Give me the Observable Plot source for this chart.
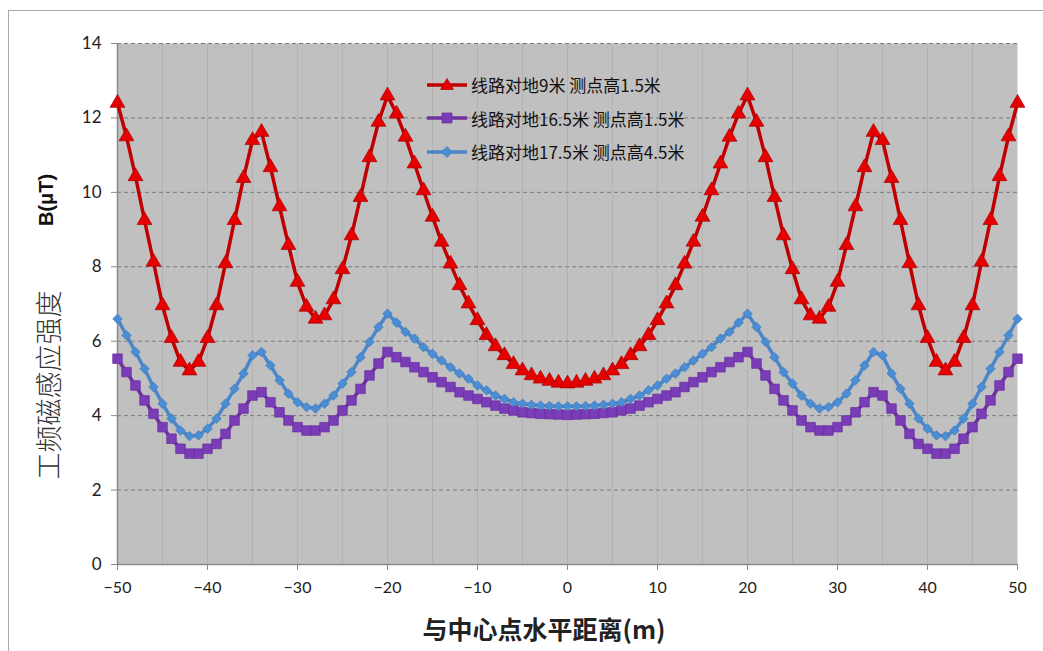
<!DOCTYPE html>
<html>
<head>
<meta charset="utf-8">
<script src="https://cdn.jsdelivr.net/npm/d3@7"></script>
<script src="https://cdn.jsdelivr.net/npm/@observablehq/plot@0.6"></script>
<style>
  html, body { margin: 0; padding: 0; background: #fff; overflow: hidden; }
  #wrap { position: relative; width: 1043px; height: 651px; overflow: hidden; }
  #chart { position: absolute; left: 0; top: 0; }
  .frame { position: absolute; left: 8px; top: 10px; width: 1100px; height: 700px;
           border-left: 1.5px solid #a8a8a8; border-top: 1.5px solid #a8a8a8; }
  .rot { position: absolute; white-space: nowrap; transform: translate(-50%, -50%) rotate(-90deg); }
  #ylab1 { left: 47px; top: 385px; font-family: "Noto Sans CJK SC", sans-serif; font-size: 27px; font-weight: 300; color: #333; }
  #ylab2 { left: 46px; top: 200px; font-family: "Liberation Sans", Arial, sans-serif; font-size: 20px; font-weight: bold; color: #111; }
  #xlab { position: absolute; left: 544px; top: 628px; transform: translate(-50%, -50%); white-space: nowrap;
          font-family: "Noto Sans CJK SC", sans-serif; font-size: 25px; font-weight: bold; color: #222; }
  #legend { position: absolute; left: 426px; top: 68px; font-family: "Noto Sans CJK SC", sans-serif; font-size: 17px; color: #111; }
  #legend .item { display: flex; align-items: center; height: 33.5px; }
  #legend svg { margin-right: 3px; }
</style>
</head>
<body>
<div id="wrap">
  <div class="frame"></div>
  <div id="chart"></div>
  <div id="ylab1" class="rot">工频磁感应强度</div>
  <div id="ylab2" class="rot">B(μT)</div>
  <div id="xlab">与中心点水平距离(m)</div>
  <div id="legend"></div>
</div>
<script>
// ---- data ----
const seriesNames = ["线路对地9米 测点高1.5米", "线路对地16.5米 测点高1.5米", "线路对地17.5米 测点高4.5米"];
const distance = d3.range(-50, 51); // horizontal distance from centre, m (every 1 m)

const red9 = [12.4, 11.5, 10.43, 9.25, 8.13, 6.96, 6.08, 5.44, 5.21, 5.44, 6.08, 6.96, 8.09, 9.25, 10.38, 11.4, 11.62, 10.67, 9.62, 8.58, 7.59, 6.92, 6.6, 6.69, 7.12, 7.93, 8.84, 9.87, 10.94, 11.89, 12.6, 12.11, 11.49, 10.77, 10.05, 9.34, 8.67, 8.08, 7.5, 7.01, 6.56, 6.16, 5.86, 5.62, 5.38, 5.21, 5.08, 4.99, 4.93, 4.88, 4.86,
  4.88, 4.93, 4.99, 5.08, 5.21, 5.38, 5.62, 5.86, 6.16, 6.56, 7.01, 7.5, 8.08, 8.67, 9.34, 10.05, 10.77, 11.49, 12.11, 12.6, 11.89, 10.94, 9.87, 8.84, 7.93, 7.12, 6.69, 6.6, 6.92, 7.59, 8.58, 9.62, 10.67, 11.62, 11.4, 10.38, 9.25, 8.09, 6.96, 6.08, 5.44, 5.21, 5.44, 6.08, 6.96, 8.13, 9.25, 10.43, 11.5, 12.4];

const purple165 = [5.53, 5.17, 4.81, 4.41, 4.05, 3.69, 3.38, 3.11, 2.98, 2.98, 3.11, 3.24, 3.51, 3.87, 4.19, 4.54, 4.63, 4.36, 4.09, 3.87, 3.69, 3.6, 3.6, 3.69, 3.87, 4.14, 4.41, 4.72, 5.08, 5.4, 5.71, 5.57, 5.44, 5.3, 5.17, 5.03, 4.9, 4.77, 4.63, 4.54, 4.45, 4.36, 4.27, 4.19, 4.14, 4.09, 4.07, 4.05, 4.04, 4.03, 4.02,
  4.03, 4.04, 4.05, 4.07, 4.09, 4.14, 4.19, 4.27, 4.36, 4.45, 4.54, 4.63, 4.77, 4.9, 5.03, 5.17, 5.3, 5.44, 5.57, 5.71, 5.4, 5.08, 4.72, 4.41, 4.14, 3.87, 3.69, 3.6, 3.6, 3.69, 3.87, 4.09, 4.36, 4.63, 4.54, 4.19, 3.87, 3.51, 3.24, 3.11, 2.98, 2.98, 3.11, 3.38, 3.69, 4.05, 4.41, 4.81, 5.17, 5.53];

const blue175 = [6.6, 6.16, 5.71, 5.26, 4.77, 4.32, 3.92, 3.6, 3.45, 3.47, 3.65, 3.92, 4.32, 4.72, 5.13, 5.62, 5.71, 5.35, 4.95, 4.59, 4.36, 4.23, 4.19, 4.32, 4.54, 4.86, 5.17, 5.57, 5.98, 6.38, 6.74, 6.5, 6.25, 6.07, 5.84, 5.66, 5.48, 5.3, 5.13, 4.99, 4.81, 4.68, 4.54, 4.45, 4.36, 4.32, 4.29, 4.27, 4.26, 4.25, 4.25,
  4.25, 4.26, 4.27, 4.29, 4.32, 4.36, 4.45, 4.54, 4.68, 4.81, 4.99, 5.13, 5.3, 5.48, 5.66, 5.84, 6.07, 6.25, 6.5, 6.74, 6.38, 5.98, 5.57, 5.17, 4.86, 4.54, 4.32, 4.19, 4.23, 4.36, 4.59, 4.95, 5.35, 5.71, 5.62, 5.13, 4.72, 4.32, 3.92, 3.65, 3.47, 3.45, 3.6, 3.92, 4.32, 4.77, 5.26, 5.71, 6.16, 6.6];

const xTicks = [-50, -40, -30, -20, -10, 0, 10, 20, 30, 40, 50];
const xMinor = [-45, -40, -35, -30, -25, -20, -15, -10, -5, 0, 5, 10, 15, 20, 25, 30, 35, 40, 45];
const yTicks = [0, 2, 4, 6, 8, 10, 12, 14];
const yGrid = [2, 4, 6, 8, 10, 12, 14];

// ---- styles per series ----
const styles = [
  {values: red9,      line: "#c00000", fill: "#e60000", edge: "#a80000", symbol: "triangle", r: 5.5},
  {values: purple165, line: "#7030a0", fill: "#7a3db8", edge: "#6a2c9c", symbol: "square",   r: 5.4},
  {values: blue175,   line: "#4a86c8", fill: "#4b8ed4", edge: "#3f7bbd", symbol: "diamond2", r: 4.3}
];

const seriesMarks = [];
styles.forEach((s, i) => {
  const data = distance.map((x, k) => ({x, y: s.values[k], series: seriesNames[i]}));
  seriesMarks.push(Plot.line(data, {x: "x", y: "y", stroke: s.line, strokeWidth: 3.5}));
  seriesMarks.push(Plot.dot(data, {x: "x", y: "y", symbol: s.symbol, r: s.r, fill: s.fill, stroke: s.edge, strokeWidth: 0.7}));
});

const plot = Plot.plot({
  width: 1043, height: 651,
  marginLeft: 117, marginRight: 26, marginTop: 43, marginBottom: 87,
  x: {domain: [-50, 50]},
  y: {domain: [0, 14]},
  style: {fontFamily: "Lato, 'Open Sans', sans-serif", background: "transparent", overflow: "visible"},
  marks: [
    Plot.frame({fill: "#c0c0c0", stroke: null}),
    Plot.ruleX(xMinor, {stroke: "#b3b3b3", strokeWidth: 1}),
    Plot.ruleY(yGrid, {stroke: "#7a7a7a", strokeDasharray: "4,3", strokeWidth: 1}),
    Plot.axisX({ticks: xTicks, tickSize: 6, tickPadding: 11, label: null, stroke: "#888", fill: "#222", fontSize: 16}),
    Plot.axisY({ticks: yTicks, tickSize: 6, tickPadding: 10, label: null, stroke: "#888", fill: "#222", fontSize: 17}),
    Plot.ruleX([-50], {stroke: "#8a8a8a", strokeWidth: 1.5}),
    Plot.ruleY([0], {stroke: "#8a8a8a", strokeWidth: 1.5}),
    ...seriesMarks
  ]
});
document.getElementById("chart").appendChild(plot);

// ---- legend ----
const symPaths = {
  triangle: "M0,-6.5L6.5,4.5L-6.5,4.5Z",
  square: "M-5,-5H5V5H-5Z",
  diamond2: "M0,-5.5L5.5,0L0,5.5L-5.5,0Z"
};
const legend = document.getElementById("legend");
styles.forEach((s, i) => {
  const item = document.createElement("div");
  item.className = "item";
  item.innerHTML = `<svg width="42" height="16" viewBox="-21 -8 42 16">
      <line x1="-20" x2="20" y1="0" y2="0" stroke="${s.line}" stroke-width="3.5"/>
      <path d="${symPaths[s.symbol]}" fill="${s.fill}" stroke="${s.edge}" stroke-width="0.7"/>
    </svg><span>${seriesNames[i]}</span>`;
  legend.appendChild(item);
});
</script>
</body>
</html>
